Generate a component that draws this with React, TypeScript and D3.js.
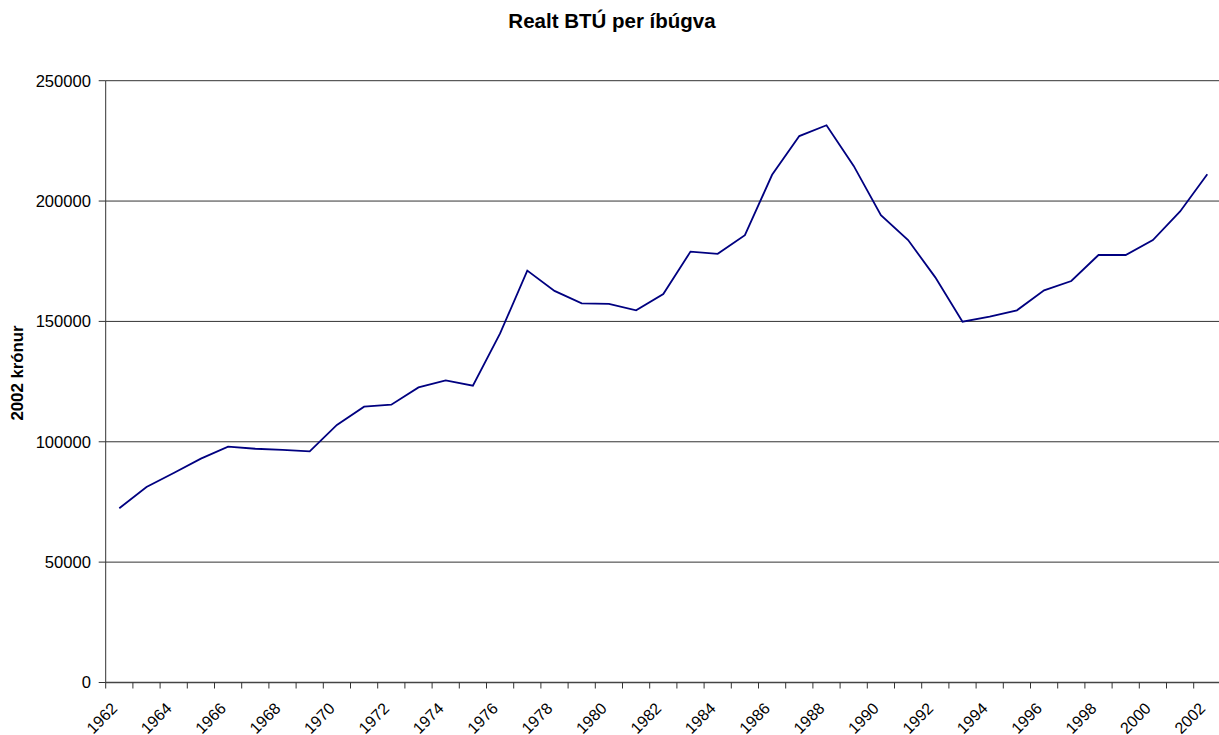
import React from "react";
import * as d3 from "d3";

const years: number[] = [
  1962, 1963, 1964, 1965, 1966, 1967, 1968, 1969, 1970, 1971, 1972, 1973, 1974,
  1975, 1976, 1977, 1978, 1979, 1980, 1981, 1982, 1983, 1984, 1985, 1986, 1987,
  1988, 1989, 1990, 1991, 1992, 1993, 1994, 1995, 1996, 1997, 1998, 1999, 2000,
  2001, 2002,
];
const values: number[] = [
  72400, 81200, 87000, 93000, 98000, 97100, 96600, 96000, 107000, 114600, 115400,
  122600, 125500, 123300, 145000, 171100, 162700, 157500, 157300, 154600, 161400,
  179000, 178100, 185800, 210900, 227000, 231500, 214600, 194100, 183800, 168300,
  149900, 152000, 154600, 162900, 166800, 177600, 177600, 183800, 195700, 211100,
];
const yTicks: number[] = [0, 50000, 100000, 150000, 200000, 250000];
const labelYears: number[] = years.filter((y) => (y - 1962) % 2 === 0);

const title = "Realt BTÚ per íbúgva";
const yTitle = "2002 krónur";

export default function App() {
  const W = 1219;
  const H = 735;
  const left = 105.7;
  const right = 1220.9;
  const top = 80.7;
  const bottom = 682.5;

  const x = d3
    .scaleBand<number>()
    .domain(years)
    .range([left, right])
    .paddingInner(0)
    .paddingOuter(0);
  const y = d3.scaleLinear().domain([0, 250000]).range([bottom, top]);

  const line = d3
    .line<number>()
    .x((_, i) => (x(years[i]) as number) + x.bandwidth() / 2)
    .y((d) => y(d));

  const font = "'Liberation Sans', Arial, sans-serif";
  const boundaries = [...years.map((yr) => x(yr) as number), right];

  return (
    <svg
      width={W}
      height={H}
      style={{ position: "absolute", left: 0, top: 0, background: "#fff" }}
      fontFamily={font}
    >
      <rect x={0} y={0} width={W} height={H} fill="#fff" />
      <text
        x={612}
        y={28}
        textAnchor="middle"
        fontSize={20.5}
        fontWeight="bold"
        fill="#000"
      >
        {title}
      </text>
      {yTicks.map((t) => (
        <g key={t}>
          {t > 0 && (
            <line
              x1={left}
              x2={right}
              y1={y(t)}
              y2={y(t)}
              stroke="#333"
              strokeWidth={1}
            />
          )}
          <line x1={left - 7} x2={left} y1={y(t)} y2={y(t)} stroke="#333" />
          <text
            x={91}
            y={y(t)}
            dy="0.35em"
            textAnchor="end"
            fontSize={16.6}
            fill="#000"
          >
            {t}
          </text>
        </g>
      ))}
      <line x1={left} x2={left} y1={top} y2={bottom} stroke="#333" strokeWidth={1} />
      <line x1={left} x2={right} y1={bottom} y2={bottom} stroke="#444" strokeWidth={1.5} />
      {boundaries.map((bx, i) => (
        <line key={i} x1={bx} x2={bx} y1={bottom} y2={bottom + 6} stroke="#333" />
      ))}
      {labelYears.map((yr) => {
        const cx = (x(yr) as number) + x.bandwidth() / 2;
        return (
          <text
            key={yr}
            transform={`translate(${cx - 1},${bottom + 27}) rotate(-45)`}
            textAnchor="end"
            fontSize={16}
            fill="#000"
          >
            {yr}
          </text>
        );
      })}
      <text
        transform={`translate(23,373) rotate(-90)`}
        textAnchor="middle"
        fontSize={16.8}
        fontWeight="bold"
        fill="#000"
      >
        {yTitle}
      </text>
      <path
        d={line(values) || ""}
        fill="none"
        stroke="#000080"
        strokeWidth={1.8}
        strokeLinejoin="miter"
      />
    </svg>
  );
}
